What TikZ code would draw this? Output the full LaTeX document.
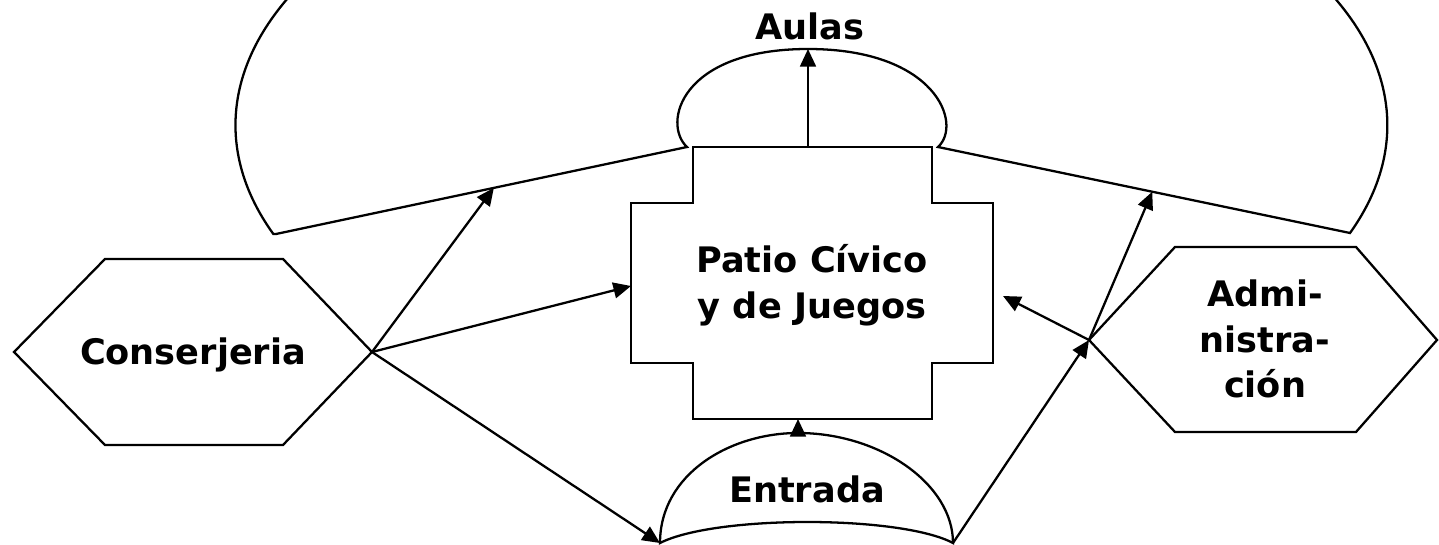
\documentclass[tikz,border=0pt]{standalone}
\usepackage{fontspec}
\setmainfont{DejaVu Sans}
\usetikzlibrary{arrows.meta, calc}
\tikzset{
  contorno/.style={line width=1.3pt, line join=miter},
  flecha/.style={line width=1.3pt, -{Triangle[length=10pt, width=9pt]}},
  rotulo/.style={font=\bfseries\fontsize{20}{26}\selectfont, align=center, inner sep=0pt},
}

\begin{document}
\begin{tikzpicture}[x=0.02cm, y=0.02cm]
  \useasboundingbox (0,0) rectangle (1439,544);
  \clip (0,0) rectangle (1439,544);

  % Aulas: big arc with the dome above the patio
  \coordinate (aulasL) at (276,310);
  \coordinate (aulasR) at (1350,311);
  \coordinate (domoL) at (687,397);
  \coordinate (domoR) at (938,397);
  \coordinate (domoT) at (808,495);
  \draw[contorno] (aulasL) -- (domoL)
    .. controls (662,420) and (680,495) .. (domoT)
    .. controls (936,495) and (963,420) .. (domoR)
    -- (aulasR) arc[start angle=-20.7, end angle=200.9, x radius=11.52cm, y radius=6.1cm] -- cycle;
  \coordinate (muroL) at ($(aulasL)!0.53!(domoL)$);
  \coordinate (muroR) at ($(domoR)!0.52!(aulasR)$);
  \node[rotulo, anchor=base] (aulas) at (810,504) {Aulas};

  % Patio (cross shape)
  \draw[contorno] (693,397) -- (932,397) -- (932,341) -- (993,341) -- (993,181)
    -- (932,181) -- (932,125) -- (693,125) -- (693,181) -- (631,181) -- (631,341)
    -- (693,341) -- cycle;
  \coordinate (patioN) at (808,397);
  \coordinate (patioS) at (798,125);
  \coordinate (patioO) at (631,258);
  \coordinate (patioE) at (1003,248);
  \node[rotulo] (patio) at (812,259) {Patio Cívico\\y de Juegos};

  % Conserjeria
  \draw[contorno] (14,192) -- (105,285) -- (283,285) -- (372,192) -- (283,99)
    -- (105,99) -- cycle;
  \coordinate (consR) at (372,192);
  \node[rotulo, anchor=base] (conserjeria) at (193,179) {Conserjeria};

  % Administracion
  \draw[contorno] (1089,204) -- (1175,297) -- (1356,297) -- (1437,204) -- (1356,112)
    -- (1175,112) -- cycle;
  \coordinate (adminL) at (1089,204);
  \node[rotulo] (admin) at (1265,205) {Admi-\\nistra-\\ción};

  % Entrada
  \coordinate (entL) at (660,1);
  \coordinate (entR) at (953,1);
  \coordinate (entT) at (798,111);
  \draw[contorno] (entL) .. controls (660,70) and (730,111) .. (entT)
    .. controls (880,111) and (953,60) .. (entR)
    .. controls (900,29) and (715,29) .. (entL) -- cycle;
  \node[rotulo, anchor=base] (entrada) at (807,42) {Entrada};

  % connectors
  \draw[flecha] (consR) -- (muroL);
  \draw[flecha] (consR) -- (patioO);
  \draw[flecha] (consR) -- (entL);
  \draw[flecha] (entR) -- (adminL);
  \draw[flecha] (adminL) -- (muroR);
  \draw[flecha] (adminL) -- (patioE);
  \draw[flecha] (patioN) -- (domoT);
  \draw[flecha] (entT) -- (patioS);
\end{tikzpicture}
\end{document}
